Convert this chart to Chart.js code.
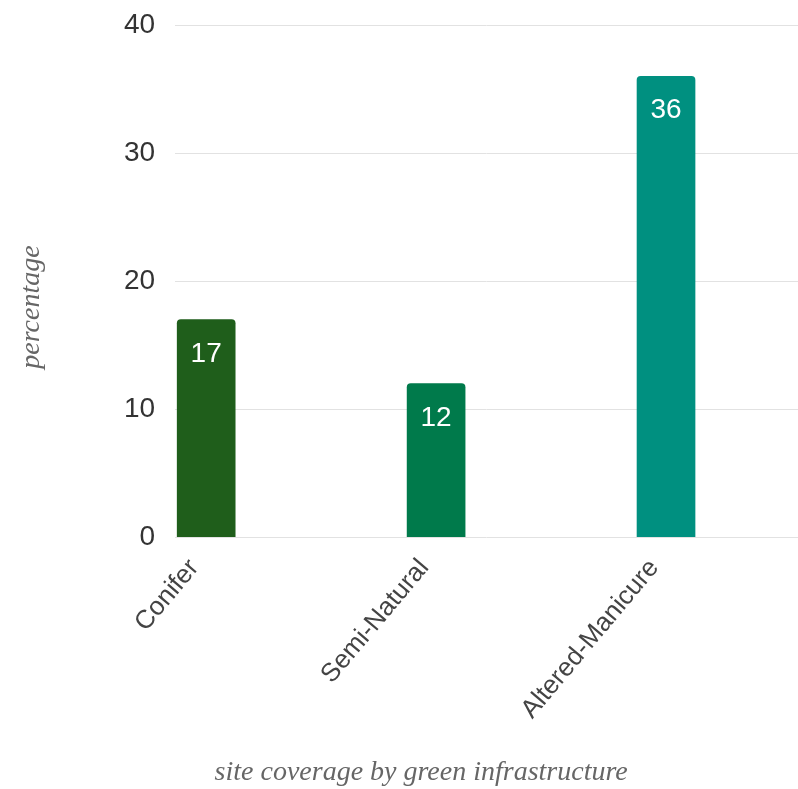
<!DOCTYPE html>
<html>
<head>
<meta charset="utf-8">
<script src="https://cdn.jsdelivr.net/npm/chart.js@4"></script>
<style>
  html, body { margin: 0; padding: 0; background: #fff; }
  #wrap { width: 798px; height: 789px; }
</style>
</head>
<body>
<div id="wrap"><canvas id="bar-chartcanvas"></canvas></div>
<script>
// categories and values
var categories = ["Conifer", "Semi-Natural", "Altered-Manicure"];
var coverage = [17, 12, 36];
var barColors = ["#1f5e1b", "#007a4b", "#009080"];
var yTicks = [0, 10, 20, 30, 40];

var xTitle = "site coverage by green infrastructure";
var yTitle = "percentage";

// value labels inside the top of each bar
var valueLabels = {
	id: "valueLabels",
	afterDatasetsDraw: function(chart) {
		var ctx = chart.ctx;
		var meta = chart.getDatasetMeta(0);
		ctx.save();
		ctx.fillStyle = "#ffffff";
		ctx.font = "28px 'Liberation Sans', Arial, sans-serif";
		ctx.textAlign = "center";
		ctx.textBaseline = "alphabetic";
		meta.data.forEach(function(bar, i) {
			ctx.fillText(String(coverage[i]), bar.x, bar.y + 42);
		});
		ctx.restore();
	}
};

// axis titles in italic serif
var axisTitles = {
	id: "axisTitles",
	afterDraw: function(chart) {
		var ctx = chart.ctx;
		var area = chart.chartArea;
		ctx.save();
		ctx.fillStyle = "#666666";
		ctx.font = "italic 28px 'Liberation Serif', 'DejaVu Serif', serif";
		ctx.textAlign = "center";
		ctx.textBaseline = "alphabetic";
		ctx.fillText(xTitle, area.left + 246, chart.height - 9);
		ctx.translate(39, area.top + 282);
		ctx.rotate(-Math.PI / 2);
		ctx.fillText(yTitle, 0, 0);
		ctx.restore();
	}
};

var ctx = document.getElementById("bar-chartcanvas");

var chart = new Chart(ctx, {
	type: "bar",
	data: {
		datasets: [{
			label: "coverage",
			data: coverage.map(function(v, i) { return { x: i, y: v }; }),
			backgroundColor: barColors,
			borderRadius: 4,
			barThickness: 58
		}]
	},
	options: {
		responsive: true,
		maintainAspectRatio: false,
		animation: false,
		layout: {
			padding: { top: 25, left: 124, right: 0, bottom: 56 }
		},
		plugins: {
			legend: { display: false },
			tooltip: { enabled: false }
		},
		scales: {
			x: {
				type: "linear",
				offset: false,
				min: -0.135,
				max: 2.574,
				grid: { display: false },
				border: { display: false },
				afterBuildTicks: function(scale) {
					scale.ticks = categories.map(function(c, i) { return { value: i }; });
				},
				ticks: {
					autoSkip: false,
					minRotation: 50,
					maxRotation: 50,
					padding: 8,
					labelOffset: -12,
					color: "#444",
					font: { family: "'Liberation Sans', Arial, sans-serif", size: 26 },
					callback: function(value) { return categories[value]; }
				}
			},
			y: {
				min: 0,
				max: 40,
				afterBuildTicks: function(scale) {
					scale.ticks = yTicks.map(function(v) { return { value: v }; });
				},
				grid: {
					color: "#e2e2e2",
					lineWidth: 1,
					drawTicks: true,
					tickLength: 20,
					tickColor: "rgba(0,0,0,0)"
				},
				border: { display: false },
				ticks: {
					padding: 0,
					color: "#333",
					font: { family: "'Liberation Sans', Arial, sans-serif", size: 28 }
				}
			}
		}
	},
	plugins: [valueLabels, axisTitles]
});
</script>
</body>
</html>
